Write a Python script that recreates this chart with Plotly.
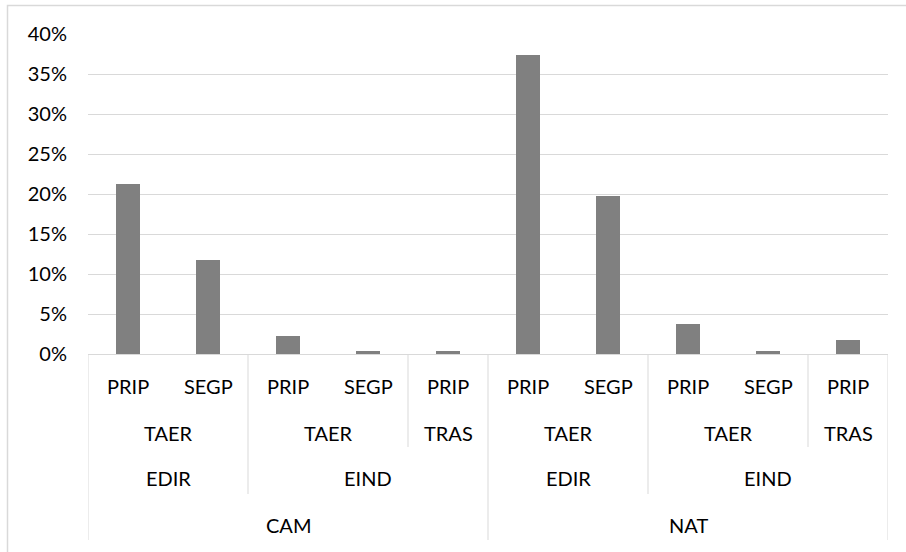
import plotly.graph_objects as go

# ---- data ----
level1 = ["PRIP", "SEGP", "PRIP", "SEGP", "PRIP", "PRIP", "SEGP", "PRIP", "SEGP", "PRIP"]
level2 = ["TAER", "TAER", "TAER", "TAER", "TRAS", "TAER", "TAER", "TAER", "TAER", "TRAS"]
level3 = ["EDIR", "EDIR", "EIND", "EIND", "EIND", "EDIR", "EDIR", "EIND", "EIND", "EIND"]
level4 = ["CAM", "CAM", "CAM", "CAM", "CAM", "NAT", "NAT", "NAT", "NAT", "NAT"]
values = [0.2125, 0.1175, 0.0225, 0.004, 0.004, 0.374, 0.1975, 0.0375, 0.004, 0.0175]

W, H = 906, 552
L, R, T, B = 88, 18, 34, 198
PH = H - T - B
FONT = "Lato"
GRID = "#d9d9d9"


def py(pix):
    """pixel row -> paper y"""
    return (H - B - pix) / PH


n = len(values)
xs = list(range(n))

fig = go.Figure(go.Bar(x=xs, y=values, width=0.31,
                       marker=dict(color="#808080", line=dict(width=0))))

levels = [level1, level2, level3, level4]
# full path key of each category at each level
keys = [[tuple(lv[i] for lv in levels[d:]) for i in range(n)] for d in range(4)]

label_y = [386, 433, 478, 525]
line_end = [400, 447, 494, 540]

annotations = []
for d in range(4):
    i = 0
    while i < n:
        j = i
        while j + 1 < n and keys[d][j + 1] == keys[d][i]:
            j += 1
        annotations.append(dict(x=(i + j) / 2, y=py(label_y[d]), xref="x", yref="paper",
                                text=levels[d][i], showarrow=False,
                                xanchor="center", yanchor="middle",
                                font=dict(family=FONT, size=20, color="#000000")))
        i = j + 1

shapes = []
for b in range(n + 1):
    if b == 0 or b == n:
        depth = 3
    else:
        ch = [d for d in range(1, 4) if keys[d][b - 1] != keys[d][b]]
        depth = max(ch) if ch else 0
    if depth < 1:
        continue
    shapes.append(dict(type="line", xref="x", yref="paper", x0=b - 0.5, x1=b - 0.5,
                       y0=py(355), y1=py(line_end[depth]), line=dict(color=GRID, width=1)))

# chart border
shapes.append(dict(type="rect", xref="paper", yref="paper",
                   x0=(7.5 - L) / (W - L - R), x1=(912 - L) / (W - L - R),
                   y0=py(560), y1=py(5.5), line=dict(color=GRID, width=1.5),
                   fillcolor="rgba(0,0,0,0)"))

fig.update_layout(
    width=W, height=H,
    margin=dict(l=L, r=R, t=T, b=B, pad=0),
    paper_bgcolor="white", plot_bgcolor="white",
    showlegend=False,
    font=dict(family=FONT, size=20, color="#000000"),
    annotations=annotations,
    shapes=shapes,
    bargap=0,
)
fig.update_xaxes(range=[-0.5, n - 0.5], showticklabels=False, showgrid=False, zeroline=False,
                 showline=True, linecolor=GRID, linewidth=1, ticks="")
fig.update_yaxes(range=[0, 0.4], dtick=0.05, tickformat=".0%", showgrid=True, gridcolor=GRID,
                 gridwidth=1, zeroline=False, showline=False, ticks="", ticklabelstandoff=20,
                 tickfont=dict(family=FONT, size=20, color="#000000"))

fig.write_html("out.html", config={"displayModeBar": False},
               post_script="document.body.style.margin='0';document.body.style.overflow='hidden';")
